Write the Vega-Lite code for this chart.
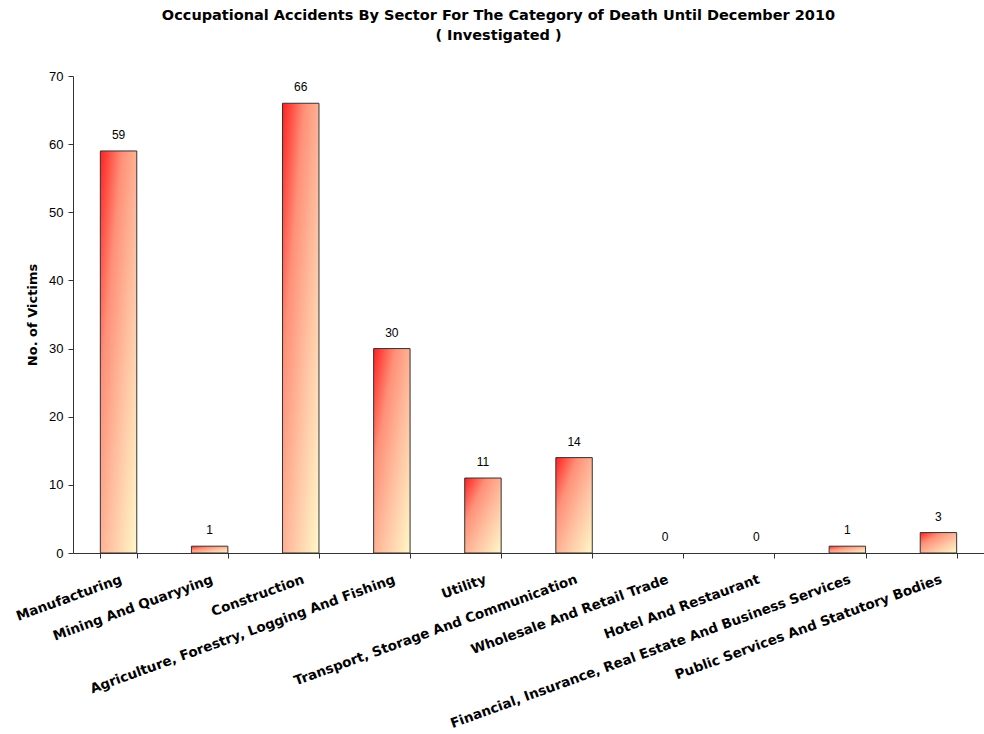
{
  "$schema": "https://vega.github.io/schema/vega-lite/v6.json",
  "autosize": "none",
  "width": 911,
  "height": 477,
  "padding": {"left": 73, "top": 76, "right": 0, "bottom": 181},
  "background": "white",
  "config": {
    "view": {"stroke": null},
    "font": "Liberation Sans"
  },
  "title": {
    "text": ["Occupational Accidents By Sector For The Category of Death Until December 2010", "( Investigated )"],
    "anchor": "middle",
    "frame": "group",
    "dx": -30,
    "offset": 27,
    "fontSize": 14.5,
    "fontWeight": "bold",
    "font": "DejaVu Sans",
    "color": "black",
    "lineHeight": 20
  },
  "data": {
    "values": [
      {"sector": "Manufacturing", "victims": 59},
      {"sector": "Mining And Quaryying", "victims": 1},
      {"sector": "Construction", "victims": 66},
      {"sector": "Agriculture, Forestry, Logging And Fishing", "victims": 30},
      {"sector": "Utility", "victims": 11},
      {"sector": "Transport, Storage And Communication", "victims": 14},
      {"sector": "Wholesale And Retail Trade", "victims": 0},
      {"sector": "Hotel And Restaurant", "victims": 0},
      {"sector": "Financial, Insurance, Real Estate And Business Services", "victims": 1},
      {"sector": "Public Services And Statutory Bodies", "victims": 3}
    ]
  },
  "encoding": {
    "x": {
      "field": "sector",
      "type": "nominal",
      "sort": null,
      "scale": {"paddingInner": 0.6, "paddingOuter": 0.3},
      "axis": {
        "title": null,
        "labelAngle": -20,
        "labelFont": "DejaVu Sans",
        "labelFontSize": 13.5,
        "labelFontWeight": "bold",
        "labelColor": "black",
        "labelPadding": 14,
        "labelDx": -7,
        "labelLimit": 0,
        "tickBand": "extent",
        "tickSize": 5,
        "tickColor": "#333",
        "domainColor": "#333",
        "labelOverlap": false
      }
    },
    "y": {
      "field": "victims",
      "type": "quantitative",
      "scale": {"domain": [0, 70], "nice": false},
      "axis": {
        "title": "No. of  Victims",
        "titleFont": "DejaVu Sans",
        "titleFontSize": 13,
        "titleFontWeight": "bold",
        "titleColor": "black",
        "titlePadding": 9,
        "values": [0, 10, 20, 30, 40, 50, 60, 70],
        "grid": false,
        "labelFontSize": 13,
        "labelColor": "black",
        "labelPadding": 5,
        "tickSize": 5,
        "tickColor": "#333",
        "domainColor": "#333"
      }
    }
  },
  "layer": [
    {
      "mark": {
        "type": "bar",
        "stroke": "#333",
        "strokeWidth": 1,
        "fill": {
          "gradient": "linear",
          "x1": 0, "y1": 0, "x2": 1, "y2": 1,
          "stops": [
            {"offset": 0, "color": "#ff2020"},
            {"offset": 0.3, "color": "#ff9078"},
            {"offset": 0.6, "color": "#ffc0a0"},
            {"offset": 1, "color": "#fff8c8"}
          ]
        }
      },
      "encoding": {
        "strokeOpacity": {"condition": {"test": "datum.victims > 0", "value": 1}, "value": 0}
      }
    },
    {
      "mark": {"type": "text", "dy": -9, "baseline": "bottom", "fontSize": 12, "color": "black", "font": "Liberation Sans"},
      "encoding": {"text": {"field": "victims", "type": "quantitative"}}
    }
  ]
}
